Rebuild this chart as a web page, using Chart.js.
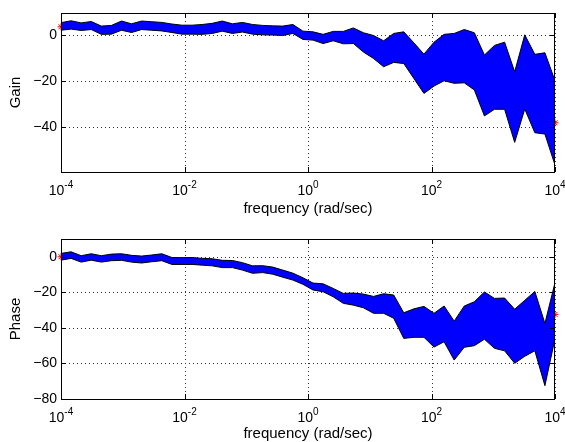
<!DOCTYPE html>
<html>
<head>
<meta charset="utf-8">
<script src="https://cdn.jsdelivr.net/npm/chart.js@4.4.1/dist/chart.umd.min.js"></script>
<style>
  body { margin: 0; background: #fff; }
  canvas { display: block; }
</style>
</head>
<body>
<canvas id="cnvGain" width="565" height="221"></canvas>
<canvas id="cnvPhase" width="565" height="221"></canvas>
<script>
// frequency grid (rad/sec), 50 points over 1e-4 .. 1e4
const frequency = [
    1.000e-4, 1.456e-4, 2.121e-4, 3.089e-4, 4.498e-4, 6.551e-4, 9.541e-4, 1.389e-3, 2.024e-3, 2.947e-3,
    4.292e-3, 6.251e-3, 9.103e-3, 1.326e-2, 1.931e-2, 2.812e-2, 4.095e-2, 5.964e-2, 8.685e-2, 0.1265,
    0.1842, 0.2683, 0.3907, 0.5690, 0.8286, 1.207, 1.758, 2.560, 3.728, 5.429,
    7.906, 11.51, 16.77, 24.42, 35.56, 51.79, 75.43, 109.9, 160.0, 233.0,
    339.3, 494.2, 719.7, 1048, 1527, 2223, 3237, 4715, 6866, 10000
];

const gainUpper = [
    5.3, 6.1, 5.2, 5.8, 3.8, 4.1, 6.0, 4.8, 6.0, 5.7,
    5.4, 4.7, 4.2, 4.2, 4.5, 5.0, 6.0, 4.8, 5.4, 4.5,
    4.1, 3.9, 3.8, 4.5, 1.6, 1.3, 0.2, 1.5, 1.5, 3.0,
    0.9, -0.3, -2.6, 0.6, 1.3, -3.5, -8.4, -3.2, 0.2, 0.6,
    2.3, 0.9, -8.8, -4.6, -3.2, -16.1, 0.0, -8.5, -7.8, -20.0
];
const gainLower = [
    2.0, 2.5, 1.9, 2.3, 0.2, 0.3, 2.0, 1.0, 2.3, 2.0,
    1.7, 1.0, 0.3, 0.3, 0.2, 0.6, 1.6, 0.6, 1.2, 0.3,
    0.0, -0.1, -0.3, 0.6, -2.0, -2.3, -3.8, -2.6, -3.9, -3.8,
    -7.5, -10.3, -13.9, -12.0, -12.5, -19.0, -25.5, -22.3, -20.0, -21.1,
    -20.9, -24.0, -35.3, -32.4, -32.4, -46.8, -32.3, -42.6, -43.2, -56.7
];

const phaseUpper = [
    1.9, 2.8, 0.6, 1.7, 0.6, 1.5, 1.7, 0.8, 0.4, 1.0,
    1.7, -0.4, -0.5, -0.4, -0.9, -1.1, -2.0, -2.1, -3.3, -5.1,
    -5.0, -5.8, -7.5, -9.2, -11.8, -14.8, -15.2, -17.8, -20.6, -20.4,
    -21.0, -22.3, -20.8, -21.5, -31.5, -29.3, -27.9, -31.8, -27.7, -36.2,
    -27.7, -25.3, -19.8, -23.4, -23.2, -29.5, -24.5, -19.5, -37.5, -14.5
];
const phaseLower = [
    -1.9, -0.9, -3.0, -1.9, -3.0, -2.2, -2.0, -3.0, -3.5, -2.8,
    -2.2, -4.3, -4.3, -4.3, -4.7, -5.1, -6.1, -6.1, -7.5, -9.3,
    -8.9, -9.8, -11.5, -13.1, -15.5, -18.7, -19.7, -22.5, -26.2, -27.2,
    -28.7, -31.8, -31.8, -34.6, -45.9, -45.3, -45.3, -50.8, -47.8, -58.1,
    -50.9, -50.0, -46.4, -51.5, -52.9, -59.9, -56.0, -52.9, -72.5, -46.0
];

// nominal model at the ends of the range
const starFreq = [1e-4, 1e4];
const gainStar = [3.5, -38.3];
const phaseStar = [0, -32.4];

// axis ticks
const freqTicks = [1e-4, 1e-2, 1, 1e2, 1e4];
const freqTickExp = ['-4', '-2', '0', '2', '4'];
const gainTicks = [-40, -20, 0];
const phaseTicks = [-80, -60, -40, -20, 0];

const FONT = "'Liberation Sans', Arial, Helvetica, sans-serif";

function toPoints(xs, ys) {
    return ys.map(function (y, i) { return { x: xs[i], y: y }; });
}

// dotted grid, box, inward ticks and 10^n labels
const matlabAxes = {
    id: 'matlabAxes',
    beforeDraw(chart) {
        const ctx = chart.ctx, a = chart.chartArea, sx = chart.scales.x, sy = chart.scales.y;
        ctx.save();
        ctx.strokeStyle = '#333';
        ctx.lineWidth = 1;
        ctx.setLineDash([1, 3]);
        freqTicks.forEach(function (f) {
            const x = Math.round(sx.getPixelForValue(f)) + 0.5;
            ctx.beginPath(); ctx.moveTo(x, a.top); ctx.lineTo(x, a.bottom); ctx.stroke();
        });
        sy.ticks.forEach(function (t) {
            const y = Math.round(sy.getPixelForValue(t.value)) + 0.5;
            ctx.beginPath(); ctx.moveTo(a.left, y); ctx.lineTo(a.right, y); ctx.stroke();
        });
        ctx.restore();
    },
    afterDatasetsDraw(chart) {
        const ctx = chart.ctx, a = chart.chartArea, sx = chart.scales.x, sy = chart.scales.y;
        const tl = 5;
        ctx.save();
        ctx.strokeStyle = '#000';
        ctx.lineWidth = 1;
        ctx.strokeRect(a.left + 0.5, a.top + 0.5, a.right - a.left - 1, a.bottom - a.top);
        ctx.beginPath();
        freqTicks.forEach(function (f) {
            const x = Math.round(sx.getPixelForValue(f)) + 0.5;
            ctx.moveTo(x, a.bottom); ctx.lineTo(x, a.bottom - tl);
            ctx.moveTo(x, a.top); ctx.lineTo(x, a.top + tl);
        });
        sy.ticks.forEach(function (t) {
            const y = Math.round(sy.getPixelForValue(t.value)) + 0.5;
            ctx.moveTo(a.left, y); ctx.lineTo(a.left + tl, y);
            ctx.moveTo(a.right, y); ctx.lineTo(a.right - tl, y);
        });
        ctx.stroke();
        ctx.restore();
    },
    afterDraw(chart) {
        const ctx = chart.ctx, a = chart.chartArea, sx = chart.scales.x;
        const base = a.bottom + 23;
        ctx.save();
        ctx.fillStyle = '#000';
        ctx.textBaseline = 'alphabetic';
        ctx.textAlign = 'left';
        freqTicks.forEach(function (f, i) {
            const x = sx.getPixelForValue(f);
            ctx.font = '14px ' + FONT;
            const wBase = ctx.measureText('10').width;
            ctx.font = '10px ' + FONT;
            const wExp = ctx.measureText(freqTickExp[i]).width;
            const x0 = x - (wBase + wExp) / 2;
            ctx.font = '14px ' + FONT;
            ctx.fillText('10', x0, base);
            ctx.font = '10px ' + FONT;
            ctx.fillText(freqTickExp[i], x0 + wBase, base - 7);
        });
        ctx.restore();
    }
};

function makePanel(canvasId, upper, lower, star, yMin, yMax, yTicks, yTitle, padTop, xHeight, titleGap) {
    // datasets are painted last-to-first: star, band fill, then the two outlines on top
    return new Chart(document.getElementById(canvasId).getContext('2d'), {
        type: 'line',
        data: {
            datasets: [{
                data: toPoints(frequency, upper),
                borderColor: '#000',
                borderWidth: 1,
                fill: false,
                pointRadius: 0,
                tension: 0
            }, {
                data: toPoints(frequency, lower),
                borderColor: '#000',
                borderWidth: 1,
                fill: false,
                pointRadius: 0,
                tension: 0
            }, {
                data: toPoints(frequency, upper),
                borderWidth: 0,
                backgroundColor: '#0000ff',
                fill: '+1',
                pointRadius: 0,
                tension: 0
            }, {
                data: toPoints(frequency, lower),
                borderWidth: 0,
                fill: false,
                pointRadius: 0,
                tension: 0
            }, {
                data: toPoints(starFreq, star),
                showLine: false,
                pointStyle: 'star',
                pointRadius: 3.5,
                pointBorderColor: '#ff0000',
                pointBorderWidth: 1,
                clip: false
            }]
        },
        options: {
            responsive: false,
            animation: false,
            devicePixelRatio: 1,
            layout: { padding: { top: padTop, right: 10, left: 0, bottom: 0 } },
            plugins: {
                legend: { display: false },
                tooltip: { enabled: false }
            },
            scales: {
                x: {
                    type: 'logarithmic',
                    min: 1e-4,
                    max: 1e4,
                    afterBuildTicks: function (scale) {
                        scale.ticks = freqTicks.map(function (v) { return { value: v }; });
                    },
                    afterFit: function (scale) { scale.height = xHeight; },
                    ticks: { display: false },
                    grid: { display: false },
                    border: { display: false },
                    title: {
                        display: true,
                        text: 'frequency (rad/sec)',
                        color: '#000',
                        font: { family: FONT, size: 15 },
                        padding: { top: 0, bottom: titleGap }
                    }
                },
                y: {
                    type: 'linear',
                    min: yMin,
                    max: yMax,
                    afterBuildTicks: function (scale) {
                        scale.ticks = yTicks.map(function (v) { return { value: v }; });
                    },
                    afterFit: function (scale) { scale.width = 61; },
                    ticks: {
                        color: '#000',
                        padding: 4,
                        font: { family: FONT, size: 14 },
                        callback: function (v) { return v < 0 ? '\u2212' + Math.abs(v) : String(v); }
                    },
                    grid: { display: false, drawTicks: false },
                    border: { display: false },
                    title: {
                        display: true,
                        text: yTitle,
                        color: '#000',
                        font: { family: FONT, size: 15 },
                        padding: { top: 7, bottom: 0 }
                    }
                }
            }
        },
        plugins: [matlabAxes]
    });
}

makePanel('cnvGain', gainUpper, gainLower, gainStar, -59.7, 9.5, gainTicks, 'Gain', 13, 49, 3);
makePanel('cnvPhase', phaseUpper, phaseLower, phaseStar, -80, 10, phaseTicks, 'Phase', 18, 43, -1);
</script>
</body>
</html>
